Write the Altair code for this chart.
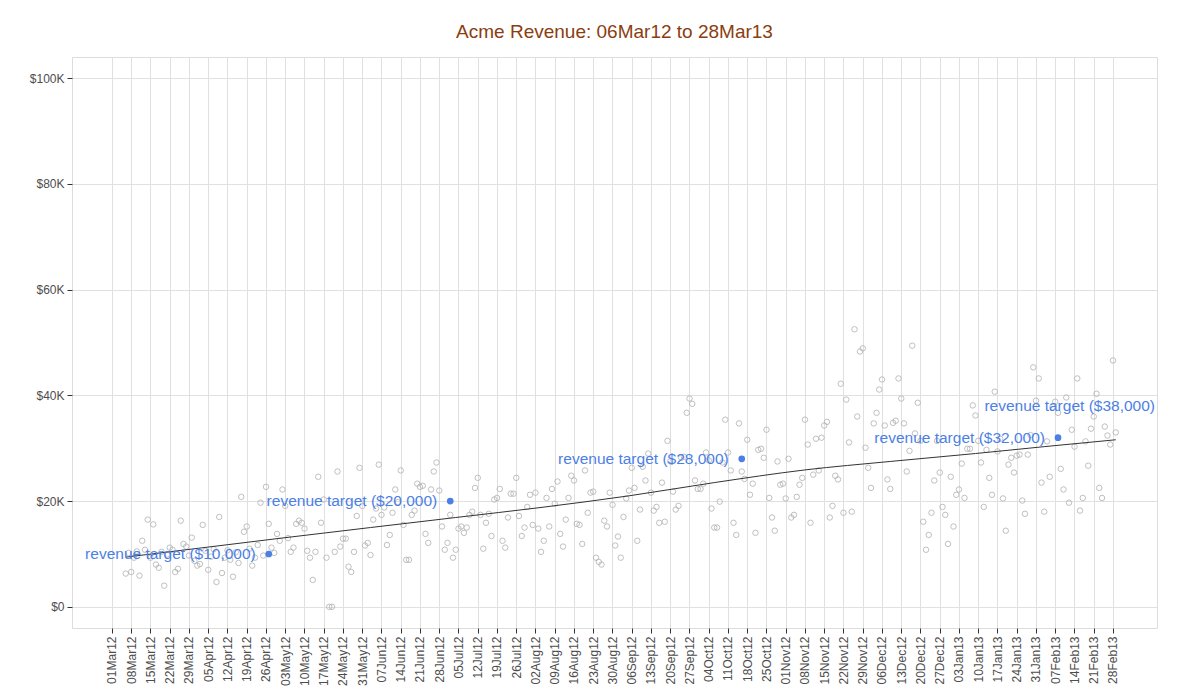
import altair as alt
import pandas as pd

# Daily revenue (thousands of $), 06Mar12 .. 01Mar13
revenue_k = [
    6.3, 10.2, 6.6, 9.3, 10.5, 5.9, 12.5, 10.8, 16.5, 9.3,
    15.6, 8, 7.4, 10.4, 4, 9.9, 11.2, 10.8, 6.6, 7.2,
    16.3, 11.9, 11.4, 9.7, 13.1, 8.7, 7.8, 8.1, 15.5, 10.6,
    7, 9.5, 10.9, 4.7, 17, 6.4, 9.3, 10.7, 8.9, 5.7,
    10.3, 8.3, 20.8, 14.2, 15.2, 11.0, 7.8, 9.3, 11.7, 19.7,
    9.7, 22.7, 15.7, 11.2, 10.2, 13.8, 12.5, 22.2, 19.1, 13,
    10.4, 11.2, 15.7, 16.3, 15.9, 14.8, 10.6, 9.3, 5.1, 10.4,
    24.6, 15.9, 20.3, 9.3, 0, 0, 10.4, 25.6, 11.4, 12.9,
    12.9, 7.6, 6.6, 10.4, 17.2, 26.3, 19.1, 11.6, 12.1, 9.8,
    16.5, 18.6, 26.9, 17.4, 18.8, 11.7, 13.6, 17.8, 22.2, 19.8,
    25.8, 15.5, 8.9, 8.9, 17.4, 18.2, 23.3, 22.7, 22.9, 13.8,
    12.1, 22.2, 25.6, 27.3, 22, 15.2, 10.8, 12.1, 17.4, 9.3,
    10.8, 14.8, 15.2, 14, 15, 17.4, 18, 22.5, 24.4, 17.4,
    11, 15.9, 17.6, 13.4, 20.3, 20.6, 22.3, 12.5, 11.2, 16.9,
    21.4, 21.4, 24.4, 17.2, 13.4, 15, 18.9, 21.2, 15.5, 21.6,
    14.8, 10.4, 12.5, 20.6, 15.2, 22.3, 19.5, 23.7, 13.8, 11.4,
    16.5, 20.6, 24.8, 23.9, 15.7, 15.5, 11.9, 25.8, 17.8, 21.6,
    21.8, 9.3, 8.5, 8, 16.3, 15.2, 21.6, 19.3, 11.6, 13.3,
    9.3, 17, 20.5, 22, 26.3, 22.5, 12.5, 18.4, 26.5, 23.9,
    29, 21.6, 18.2, 18.9, 15.9, 23.5, 16.1, 31.4, 27.5, 21.8,
    18.4, 19.1, 28.2, 28.4, 36.7, 39.4, 38.4, 23.9, 22.3, 22.3,
    23.3, 29.2, 27.7, 18.6, 15, 15, 19.9, 27.3, 35.4, 29.2,
    25.8, 15.9, 13.6, 34.7, 25.6, 24.2, 31.6, 21.2, 23.3, 14,
    29.7, 29.9, 28.2, 33.5, 20.6, 16.9, 14.4, 27.5, 23.1, 23.3,
    20.5, 28, 16.9, 17.4, 20.8, 23.1, 24.4, 35.4, 30.7, 15.9,
    25, 31.8, 25.8, 32, 34.3, 35, 16.9, 19.1, 24.8, 24.1,
    42.2, 17.8, 39.2, 31.1, 18, 52.5, 36, 48.3, 48.9, 30.1,
    26.3, 22.5, 34.7, 36.7, 41.1, 43, 34.3, 24.1, 22.3, 34.8,
    35.2, 43.2, 39.4, 34.7, 25.6, 29.5, 49.4, 32.8, 38.6, 31.4,
    16.1, 10.8, 13.6, 17.8, 23.9, 31.4, 25.4, 18.9, 17.4, 11.9,
    24.6, 15.2, 21.2, 22.2, 27.1, 20.6, 29.9, 29.9, 38.1, 36.2,
    31.4, 27.3, 18.9, 29.7, 24.4, 21.2, 40.7, 29.4, 31.8, 20.5,
    14.4, 26.9, 28.2, 25.4, 28.6, 28.8, 20.1, 17.6, 28.8, 32.5,
    45.3, 39, 43.2, 23.5, 18, 31.3, 24.6, 37.8, 38.8, 36.7,
    26.1, 22.2, 39.6, 19.7, 33.5, 30.3, 43.2, 18.2, 20.6, 31.3,
    26.7, 33.7, 36, 40.3, 22.5, 20.6, 34.1, 32.4, 30.7, 46.6,
    33,
]
first_day = "2012-03-06"

# Smoothed trend (thousands of $)
smooth_dates = ["2012-03-06", "2012-04-30", "2012-06-03", "2012-07-04", "2012-08-04",
                "2012-09-05", "2012-10-06", "2012-11-08", "2012-12-09", "2013-01-09",
                "2013-02-03", "2013-03-01"]
smooth_k = [9.4, 12.9, 15.0, 16.9, 18.8, 21.0, 23.5, 25.9, 27.5, 29.0, 30.3, 31.6]

# Revenue targets
target_dates = ["2012-04-27", "2012-07-02", "2012-10-16", "2013-02-08", "2013-03-20"]
target_values = [10000, 20000, 28000, 32000, 38000]
target_labels = ["revenue target ($10,000)", "revenue target ($20,000)",
                 "revenue target ($28,000)", "revenue target ($32,000)",
                 "revenue target ($38,000)"]

tick_days = pd.date_range("2012-03-01", "2013-02-28", freq="7D")
y_ticks = [0, 20000, 40000, 60000, 80000, 100000]

FONT = "Liberation Sans"
BLUE = "#4c7fe6"

days = pd.date_range(first_day, periods=len(revenue_k), freq="D")
df = pd.DataFrame({"date": days.strftime("%Y-%m-%d"),
                   "revenue": [v * 1000 for v in revenue_k]})
df_smooth = pd.DataFrame({"date": smooth_dates, "revenue": [v * 1000 for v in smooth_k]})
df_target = pd.DataFrame({"date": target_dates, "revenue": target_values,
                          "label": target_labels})

x_scale = alt.Scale(type="utc", domain=[
    alt.DateTime(year=2012, month=2, date=15, hours=11, utc=True),
    alt.DateTime(year=2013, month=3, date=16, utc=True)])
x_axis = alt.Axis(
    values=[alt.DateTime(year=int(d.year), month=int(d.month), date=int(d.day), utc=True)
            for d in tick_days],
    labelExpr="utcFormat(datum.value, '%d%b%y')",
    labelAngle=270, labelFontSize=12,
    labelColor="#4d4d4d", labelFont=FONT, tickColor="#333333", tickSize=5,
    labelPadding=3, domain=False, grid=True, gridColor="#e0e0e0",
    labelOverlap=False, title=None)
y_scale = alt.Scale(domain=[-4000, 104000], nice=False, zero=False)
y_axis = alt.Axis(
    values=y_ticks,
    labelExpr="datum.value == 0 ? '$0' : '$' + (datum.value / 1000) + 'K'",
    labelFontSize=12, labelColor="#4d4d4d", labelFont=FONT, tickColor="#333333",
    tickSize=5, labelPadding=3, domain=False, grid=True, gridColor="#e0e0e0",
    title=None)

X = alt.X("date:T", scale=x_scale, axis=x_axis)
Y = alt.Y("revenue:Q", scale=y_scale, axis=y_axis)

points = alt.Chart(df).mark_point(
    shape="circle", filled=False, size=30, strokeWidth=0.8,
    color="#b0b0b0", opacity=1, clip=True).encode(x=X, y=Y)

smooth = alt.Chart(df_smooth).mark_line(
    color="#333333", strokeWidth=1, interpolate="monotone").encode(x=X, y=Y)

tdots = alt.Chart(df_target).mark_circle(
    size=45, color=BLUE, opacity=1, clip=True).encode(x=X, y=Y)

tlabels = alt.Chart(df_target).mark_text(
    align="right", baseline="middle", dx=-13, fontSize=15.5,
    font=FONT, color=BLUE).encode(x=X, y=Y, text="label:N")

chart = alt.layer(points, smooth, tdots, tlabels).properties(
    width=1085, height=571,
    title=alt.TitleParams("Acme Revenue: 06Mar12 to 28Mar13", fontSize=19,
                          font=FONT, fontWeight="normal", color="#8b3d10",
                          anchor="middle", offset=15),
    autosize=alt.AutoSizeParams(type="none"),
    padding={"left": 72, "top": 57, "right": 43, "bottom": 72},
).configure_view(stroke="#333333", strokeWidth=1.2).configure(background="white")

chart.save("out.html", embed_options={"renderer": "svg", "actions": False})
